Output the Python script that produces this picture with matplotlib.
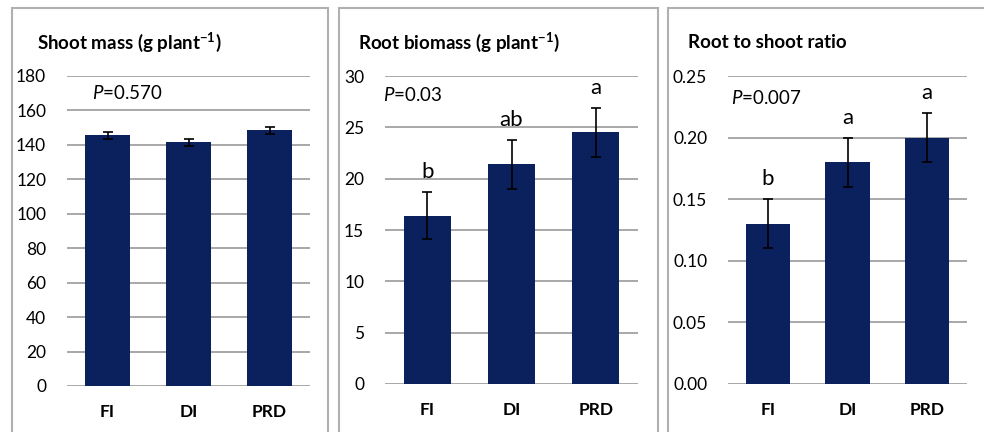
import numpy as np
import matplotlib
matplotlib.use('Agg')
import matplotlib.pyplot as plt
from matplotlib.patches import Rectangle

plt.rcParams['font.family'] = ['Lato', 'DejaVu Sans']
plt.rcParams['mathtext.fontset'] = 'custom'
plt.rcParams['mathtext.rm'] = 'Lato'
plt.rcParams['mathtext.it'] = 'Lato:italic'
plt.rcParams['mathtext.bf'] = 'Lato:bold'

# Data
treatments = ['FI', 'DI', 'PRD']

shoot_mass = [145.5, 141.5, 148.5]
shoot_err = [2.0, 2.0, 2.0]

root_mass = [16.4, 21.4, 24.5]
root_err = [2.3, 2.4, 2.4]
root_letters = ['b', 'ab', 'a']

ratio = [0.13, 0.18, 0.20]
ratio_err = [0.02, 0.02, 0.02]
ratio_letters = ['b', 'a', 'a']

titles = [r'Shoot mass (g plant$^{\mathbf{-1}}$)',
          r'Root biomass (g plant$^{\mathbf{-1}}$)',
          'Root to shoot ratio']
p_texts = [r'$\it{P}$=0.570', r'$\it{P}$=0.03', r'$\it{P}$=0.007']

W, H = 984, 432
fig = plt.figure(figsize=(W / 100, H / 100), dpi=100)
bar_color = '#0b215e'
grid_color = '#a8a8a8'

# panel frames (pixels): left, right
frames = [(12, 328), (339, 658), (668, 990)]
for l, r in frames:
    fig.patches.append(Rectangle((l / W, -0.05), (r - l) / W, (H - 8) / H + 0.05,
                                 transform=fig.transFigure, fill=False,
                                 edgecolor='#b0b0b0', lw=1.5))

# axes (pixels): left, width, bottom y, top y
axes_px = [(67, 243, 386, 76), (385, 253, 384, 76), (728, 239, 384, 76)]
title_x = [37, 358, 688]
p_pos = [(0.103, 0.945), (-0.008, 0.938), (0.013, 0.929)]

series = [(shoot_mass, shoot_err, None, 180, 20, '{:.0f}'),
          (root_mass, root_err, root_letters, 30, 5, '{:.0f}'),
          (ratio, ratio_err, ratio_letters, 0.25, 0.05, '{:.2f}')]

x = np.arange(len(treatments))
for i, (vals, errs, letters, ymax, step, fmt) in enumerate(series):
    l, w, yb, yt = axes_px[i]
    ax = fig.add_axes([l / W, (H - yb) / H, w / W, (yb - yt) / H])
    ax.set_axisbelow(True)
    ax.bar(x, vals, width=0.56, color=bar_color)
    ax.errorbar(x, vals, yerr=errs, fmt='none', ecolor='black',
                elinewidth=1.2, capsize=3.5, capthick=1.2)
    ax.set_xlim(-0.5, 2.5)
    ax.set_ylim(0, ymax)
    ticks = np.arange(0, ymax + step / 2, step)
    ax.set_yticks(ticks)
    ax.set_yticklabels([fmt.format(t) for t in ticks], fontsize=12.5)
    ax.set_xticks(x)
    ax.set_xticklabels(treatments, fontsize=12.5, fontweight='bold')
    ax.tick_params(axis='y', length=0, pad=15)
    ax.tick_params(axis='x', length=0, pad=13)
    ax.grid(axis='y', color=grid_color, lw=1.4)
    for s in ax.spines.values():
        s.set_visible(False)
    ax.text(p_pos[i][0], p_pos[i][1], p_texts[i], transform=ax.transAxes,
            fontsize=13.5, va='center', ha='left')
    if letters:
        for xi, v, e, lab in zip(x, vals, errs, letters):
            ax.annotate(lab, (xi, v + e), xytext=(0, 7),
                        textcoords='offset points', ha='center', va='bottom',
                        fontsize=16)
    fig.text(title_x[i] / W, 1 - 42 / H, titles[i], fontsize=13.5,
             fontweight='bold', ha='left', va='center')

fig.savefig('out.png', dpi=100)
